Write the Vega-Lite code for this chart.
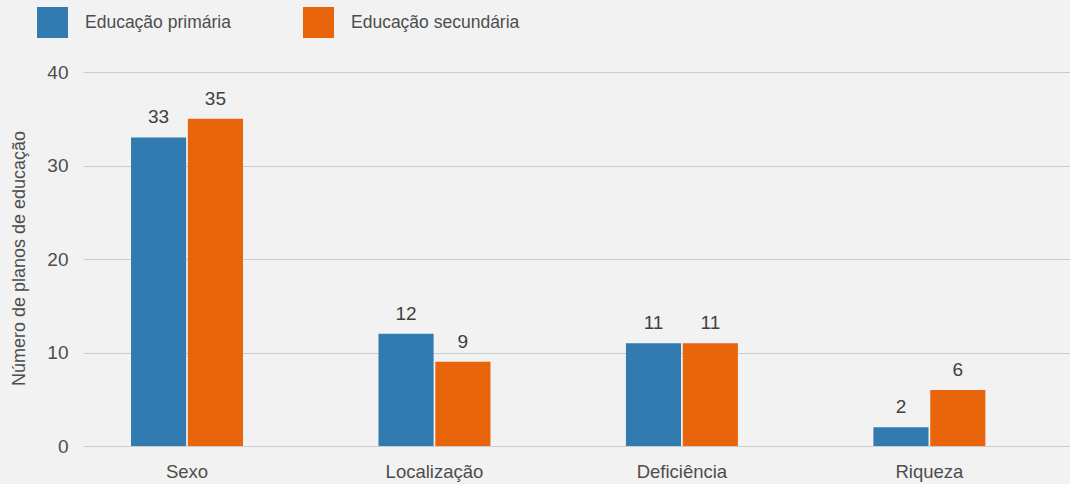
{
  "$schema": "https://vega.github.io/schema/vega-lite/v6.json",
  "autosize": "none",
  "width": 987,
  "height": 374,
  "padding": {"left": 83, "top": 72, "right": 0, "bottom": 38},
  "background": "#f2f2f2",
  "config": {
    "view": {"stroke": null},
    "font": "Liberation Sans",
    "axis": {"labelFont": "Liberation Sans", "titleFont": "Liberation Sans"},
    "legend": {"labelFont": "Liberation Sans"}
  },
  "data": {
    "values": [
      {"categoria": "Sexo", "nivel": "Educação primária", "valor": 33},
      {"categoria": "Sexo", "nivel": "Educação secundária", "valor": 35},
      {"categoria": "Localização", "nivel": "Educação primária", "valor": 12},
      {"categoria": "Localização", "nivel": "Educação secundária", "valor": 9},
      {"categoria": "Deficiência", "nivel": "Educação primária", "valor": 11},
      {"categoria": "Deficiência", "nivel": "Educação secundária", "valor": 11},
      {"categoria": "Riqueza", "nivel": "Educação primária", "valor": 2},
      {"categoria": "Riqueza", "nivel": "Educação secundária", "valor": 6}
    ]
  },
  "encoding": {
    "x": {
      "field": "categoria",
      "type": "nominal",
      "sort": ["Sexo", "Localização", "Deficiência", "Riqueza"],
      "scale": {"paddingInner": 0.5475, "paddingOuter": 0.268, "align": 0.362},
      "axis": {
        "title": null,
        "labelAngle": 0,
        "labelFontSize": 18.5,
        "labelColor": "#4d4d4d",
        "ticks": false,
        "domain": false,
        "labelPadding": 16
      }
    },
    "xOffset": {
      "field": "nivel",
      "type": "nominal",
      "sort": ["Educação primária", "Educação secundária"],
      "scale": {"paddingInner": 0.03, "paddingOuter": 0}
    },
    "y": {
      "field": "valor",
      "type": "quantitative",
      "scale": {"domain": [0, 40], "nice": false},
      "axis": {
        "values": [0, 10, 20, 30, 40],
        "title": "Número de planos de educação",
        "titleFontSize": 18,
        "titleFontWeight": "normal",
        "titleColor": "#4d4d4d",
        "titleX": -64,
        "titleY": 186,
        "titleAngle": -90,
        "titleAlign": "center",
        "titleBaseline": "middle",
        "labelFontSize": 19,
        "labelColor": "#4d4d4d",
        "labelPadding": 15,
        "ticks": false,
        "domain": false,
        "grid": true,
        "gridColor": "#cccccc",
        "gridWidth": 1.2
      }
    }
  },
  "layer": [
    {
      "mark": {"type": "bar"},
      "encoding": {
        "color": {
          "field": "nivel",
          "type": "nominal",
          "sort": ["Educação primária", "Educação secundária"],
          "scale": {"range": ["#327bb0", "#e8650c"]},
          "legend": {
            "title": null,
            "orient": "none",
            "legendX": -46,
            "legendY": -65,
            "direction": "horizontal",
            "symbolType": "square",
            "symbolSize": 961,
            "symbolStrokeWidth": 0,
            "symbolOpacity": 1,
            "labelFontSize": 17.5,
            "labelColor": "#4d4d4d",
            "labelLimit": 400,
            "labelOffset": 17,
            "columnPadding": 72,
            "padding": 0
          }
        }
      }
    },
    {
      "mark": {"type": "text", "baseline": "bottom", "dy": -10, "fontSize": 19, "color": "#404040"},
      "encoding": {
        "text": {"field": "valor", "type": "quantitative"}
      }
    }
  ]
}
